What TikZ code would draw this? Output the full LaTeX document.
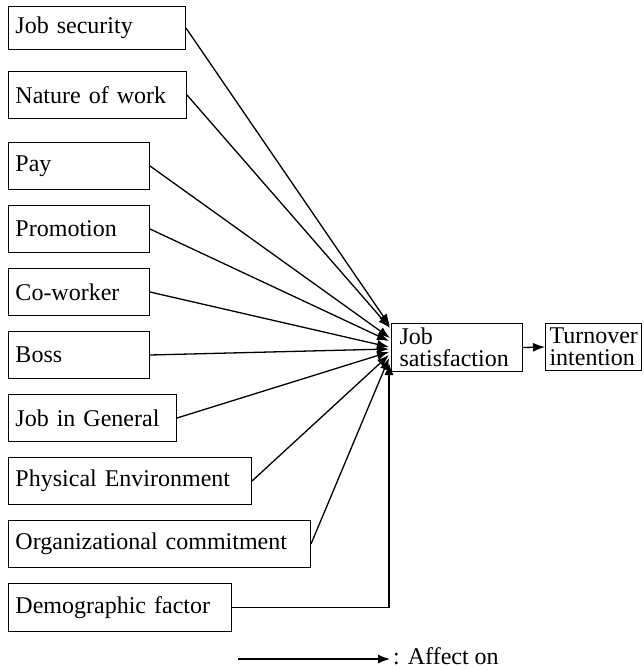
\documentclass[tikz,border=0pt]{standalone}
\usepackage{fontspec}
\setmainfont{Liberation Serif}
\usetikzlibrary{arrows.meta}

\begin{document}
\begin{tikzpicture}[x=1pt,y=-1pt,
  factor/.style={draw, line width=1pt, anchor=north west, align=left,
    inner xsep=7pt, inner ysep=0pt, minimum height=47pt,
    font=\fontsize{24}{22}\selectfont},
  link/.style={line width=1.3pt, -{Latex[length=12pt,width=9pt]}}]
  \useasboundingbox (0,0) rectangle (644,670);

  \node[factor, text width=163pt, minimum height=43pt] (sec) at (8,6) {Job security};
  \node[factor, text width=164pt] (nat) at (8,71) {Nature of work};
  \node[factor, text width=127pt] (pay) at (8,142) {Pay};
  \node[factor, text width=127pt] (pro) at (8,205) {Promotion};
  \node[factor, text width=127pt] (cow) at (8,268) {Co-worker};
  \node[factor, text width=127pt] (boss) at (8,331) {Boss};
  \node[factor, text width=154pt] (gen) at (8,394) {Job in General};
  \node[factor, text width=229pt] (phy) at (8,457) {Physical Environment};
  \node[factor, text width=288pt] (org) at (8,520) {Organizational commitment};
  \node[factor, text width=209pt, minimum height=48pt] (dem) at (8,583) {Demographic factor};

  \node[factor, text width=115pt, inner xsep=8pt, minimum height=48pt] (js) at (391,323) {Job\\satisfaction};
  \node[factor, text width=88pt, inner xsep=4pt] (ti) at (545,323) {Turnover\\intention};

  % arrow ends at the left side of job satisfaction
  \coordinate (e1) at (390,326);
  \coordinate (e2) at (390,328);
  \coordinate (e3) at (390,338);
  \coordinate (e4) at (389,341);
  \coordinate (e5) at (389,347);
  \coordinate (e6) at (389,349);
  \coordinate (e7) at (389,352);
  \coordinate (e8) at (389,355);
  \coordinate (e9) at (389,358);
  \coordinate (e10) at (389,363);

  \draw[link] (sec.east) -- (e1);
  \draw[link] (nat.east) -- (e2);
  \draw[link] (pay.east) -- (e3);
  \draw[link] (pro.east) -- (e4);
  \draw[link] (cow.east) -- (e5);
  \draw[link] (boss.east) -- (e6);
  \draw[link] (gen.east) -- (e7);
  \draw[link] (phy.east) -- (e8);
  \draw[link] (org.east) -- (e9);
  \draw[link] (dem.east) -| (e10);

  \draw[link] (js.east) -- (ti.west);

  % legend
  \coordinate (leg) at (238,659);
  \node[anchor=base west, inner sep=0pt, font=\fontsize{24}{22}\selectfont] (aff) at (393,664) {: Affect on};
  \draw[link, shorten >=3pt] (leg) -- (aff.west |- leg);
\end{tikzpicture}
\end{document}
